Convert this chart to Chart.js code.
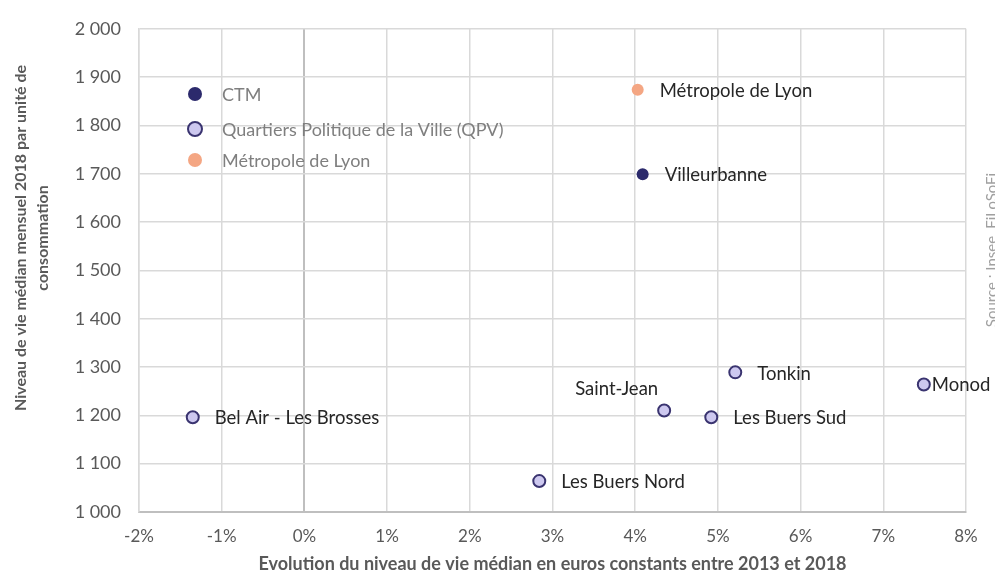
<!DOCTYPE html>
<html>
<head>
<meta charset="utf-8">
<script src="https://cdn.jsdelivr.net/npm/chart.js@4.4.1/dist/chart.umd.min.js"></script>
<style>
  html, body { margin: 0; padding: 0; background: #fff; }
  #wrap { width: 995px; height: 575px; position: relative; }
</style>
</head>
<body>
<div id="wrap"><canvas id="chart"></canvas></div>
<script>
// CTM
const ctmNames = ['Villeurbanne'];
const ctmEvol = [4.09];
const ctmNiveau = [1699];

// Quartiers Politique de la Ville
const qpvNames = ['Tonkin', 'Monod', 'Saint-Jean', 'Les Buers Sud', 'Bel Air - Les Brosses', 'Les Buers Nord'];
const qpvEvol = [5.21, 7.49, 4.35, 4.92, -1.35, 2.84];
const qpvNiveau = [1289, 1264, 1210, 1196, 1196, 1064];

// Métropole
const metroNames = ['Métropole de Lyon'];
const metroEvol = [4.03];
const metroNiveau = [1874];

const xTicks = [-2, -1, 0, 1, 2, 3, 4, 5, 6, 7, 8];

const toPoints = (xs, ys, names) => xs.map((x, i) => ({ x: x, y: ys[i], name: names[i] }));

const FONT = 'Lato, "Open Sans", sans-serif';

// where each point label sits relative to its point
const labelPos = {
  'Saint-Jean': { dx: -6, dy: -21, align: 'right' },
  'Monod': { dx: 8, dy: 1, align: 'left' },
  'Tonkin': { dx: 22, dy: 2, align: 'left' }
};

const pointLabels = {
  id: 'pointLabels',
  afterDatasetsDraw(chart) {
    const ctx = chart.ctx;
    ctx.save();
    ctx.font = '18.5px ' + FONT;
    ctx.fillStyle = '#262626';
    ctx.textBaseline = 'middle';
    chart.data.datasets.forEach((ds, di) => {
      const meta = chart.getDatasetMeta(di);
      meta.data.forEach((el, i) => {
        const name = ds.data[i].name;
        const p = labelPos[name] || { dx: 22, dy: 1, align: 'left' };
        ctx.textAlign = p.align;
        ctx.fillText(name, el.x + p.dx, el.y + p.dy);
      });
    });
    ctx.restore();
  }
};

// legend inside the plot, y title and source
const extras = {
  id: 'extras',
  afterDraw(chart) {
    const ctx = chart.ctx;
    const rows = [94, 129, 160];
    ctx.save();
    ctx.font = '18px ' + FONT;
    ctx.textBaseline = 'middle';
    ctx.textAlign = 'left';
    chart.data.datasets.forEach((ds, i) => {
      const y = rows[i];
      ctx.beginPath();
      ctx.arc(195, y, 7, 0, Math.PI * 2);
      ctx.fillStyle = ds.backgroundColor;
      ctx.fill();
      if (ds.borderWidth) {
        ctx.lineWidth = ds.borderWidth;
        ctx.strokeStyle = ds.borderColor;
        ctx.stroke();
      }
      ctx.fillStyle = '#7f7f7f';
      ctx.fillText(ds.label, 222, y + 1);
    });
    ctx.restore();

    // y axis title
    ctx.save();
    ctx.translate(0, 238);
    ctx.rotate(-Math.PI / 2);
    ctx.font = 'bold 16px ' + FONT;
    ctx.fillStyle = '#595959';
    ctx.textAlign = 'center';
    ctx.textBaseline = 'middle';
    ctx.fillText('Niveau de vie médian mensuel 2018 par unité de', 0, 21);
    ctx.fillText('consommation', 0, 43);
    ctx.restore();

    // source, rotated on the right edge
    ctx.save();
    ctx.translate(992, 250);
    ctx.rotate(-Math.PI / 2);
    ctx.font = '15px ' + FONT;
    ctx.fillStyle = '#a0a0a0';
    ctx.textAlign = 'center';
    ctx.textBaseline = 'middle';
    ctx.fillText('Source : Insee, FiLoSoFi', 0, 0);
    ctx.restore();
  }
};

new Chart(document.getElementById('chart'), {
  type: 'scatter',
  data: {
    datasets: [
      {
        label: 'CTM',
        data: toPoints(ctmEvol, ctmNiveau, ctmNames),
        backgroundColor: '#2c2a6c',
        borderColor: '#2c2a6c',
        borderWidth: 0,
        pointRadius: 6,
        pointHoverRadius: 6
      },
      {
        label: 'Quartiers Politique de la Ville (QPV)',
        data: toPoints(qpvEvol, qpvNiveau, qpvNames),
        backgroundColor: '#cdc8ef',
        borderColor: '#3a3470',
        borderWidth: 2,
        pointRadius: 6,
        pointHoverRadius: 6
      },
      {
        label: 'Métropole de Lyon',
        data: toPoints(metroEvol, metroNiveau, metroNames),
        backgroundColor: '#f4a683',
        borderColor: '#f4a683',
        borderWidth: 0,
        pointRadius: 6,
        pointHoverRadius: 6
      }
    ]
  },
  options: {
    responsive: true,
    maintainAspectRatio: false,
    animation: false,
    layout: { padding: { top: 27, right: 29, left: 0, bottom: 0 } },
    plugins: {
      legend: { display: false },
      tooltip: { enabled: false }
    },
    scales: {
      x: {
        type: 'linear',
        min: -2,
        max: 8,
        afterBuildTicks: (axis) => { axis.ticks = xTicks.map(v => ({ value: v })); },
        afterFit: (axis) => { axis.height = 63; },
        ticks: {
          color: '#595959',
          font: { family: FONT, size: 17 },
          padding: 14,
          callback: (v) => v + '%'
        },
        grid: {
          color: (c) => c.tick && c.tick.value === 0 ? '#bfbfbf' : '#d9d9d9',
          lineWidth: (c) => c.tick && c.tick.value === 0 ? 2 : 1.5,
          drawTicks: false
        },
        border: { color: '#bfbfbf', width: 2 },
        title: {
          display: true,
          text: 'Evolution du niveau de vie médian en euros constants entre 2013 et 2018',
          color: '#595959',
          font: { family: FONT, size: 18, weight: 'bold' },
          padding: { top: 0, bottom: 0 }
        }
      },
      y: {
        min: 1000,
        max: 2000,
        afterFit: (axis) => { axis.width = 139; },
        ticks: {
          stepSize: 100,
          color: '#595959',
          font: { family: FONT, size: 18 },
          padding: 18,
          callback: (v) => v.toLocaleString('fr-FR').replace(/\s/g, ' ')
        },
        grid: { color: '#d9d9d9', lineWidth: 1.5, drawTicks: false },
        border: { color: '#d9d9d9', width: 1.5 }
      }
    }
  },
  plugins: [pointLabels, extras]
});
</script>
</body>
</html>
